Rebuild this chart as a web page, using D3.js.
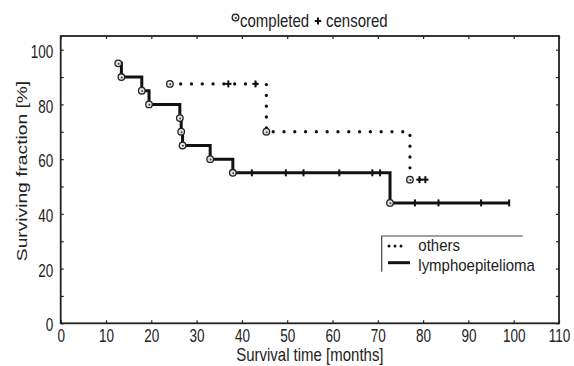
<!DOCTYPE html>
<meta charset="utf-8">
<script src="https://cdn.jsdelivr.net/npm/d3@7"></script>
<style>
body { margin: 0; background: #fff; }
text { font-family: "Liberation Sans", Arial, sans-serif; fill: #222; }
.axis line { stroke: #222; stroke-width: 1.2; }
.axis path { display: none; }
</style>
<body>
<div id="chart"></div>
<script>

// ---------------------------- DATA ----------------------------//
// lymphoepitelioma: events [months, surviving %]
var lymphEvents = [[12.7, 95], [13.4, 90], [17.9, 85], [19.5, 80], [26.3, 75], [26.6, 70],
                   [26.9, 65], [33.0, 60], [38.0, 55], [72.7, 44]];
var lymphCensored = [[42.2, 55], [49.7, 55], [53.6, 55], [61.5, 55], [68.8, 55], [70.5, 55],
                     [78.2, 44], [83.4, 44], [92.8, 44], [99.0, 44]];

// others
var otherEvents = [[24.1, 87.5], [45.4, 70], [77.1, 52.5]];
var otherCensored = [[37.0, 87.5], [43.0, 87.5], [79.2, 52.5], [80.5, 52.5]];

var xTicks = [0, 10, 20, 30, 40, 50, 60, 70, 80, 90, 100, 110];
var yTicks = [0, 10, 20, 30, 40, 50, 60, 70, 80, 90, 100];
var yLabels = [0, 20, 40, 60, 80, 100];

var W = 574, H = 366;
var pLeft = 60.7, pRight = 559, pTop = 36, pBottom = 323.3;
var sy = 1.2;   // the picture is stretched vertically, text looks condensed

var x = d3.scaleLinear().domain([0, 110]).range([pLeft, pRight]);
var y = d3.scaleLinear().domain([0, 105]).range([pBottom, pTop]);

var svg = d3.select("#chart").append("svg")
    .attr("width", W)
    .attr("height", H);

// ---------------------------- AXES ----------------------------//
svg.append("g").attr("class", "axis")
    .attr("transform", "translate(0," + pBottom + ")")
    .call(d3.axisBottom(x).tickValues(xTicks).tickSizeInner(-3).tickSizeOuter(0).tickPadding(0))
    .selectAll("text")
    .attr("y", null).attr("dy", null)
    .style("font-size", "13.5px")
    .attr("transform", "translate(0,18.3) scale(1,1.35)");

svg.append("g").attr("class", "axis")
    .attr("transform", "translate(0," + pTop + ")")
    .call(d3.axisTop(x).tickValues(xTicks).tickSizeInner(-3).tickSizeOuter(0).tickFormat(""));

svg.append("g").attr("class", "axis")
    .attr("transform", "translate(" + pLeft + ",0)")
    .call(d3.axisLeft(y).tickValues(yTicks).tickSizeInner(-3).tickSizeOuter(0).tickPadding(0)
        .tickFormat(function(d) { return yLabels.indexOf(d) >= 0 ? d : ""; }))
    .selectAll("text")
    .attr("x", null).attr("dy", null)
    .style("font-size", "13.5px")
    .attr("transform", "translate(-7.4,7.6) scale(1,1.35)");

svg.append("g").attr("class", "axis")
    .attr("transform", "translate(" + pRight + ",0)")
    .call(d3.axisRight(y).tickValues(yTicks).tickSizeInner(-3).tickSizeOuter(0).tickFormat(""));

// frame
svg.append("rect")
    .attr("x", pLeft).attr("y", pTop)
    .attr("width", pRight - pLeft).attr("height", pBottom - pTop)
    .attr("fill", "none")
    .attr("stroke", "#222")
    .attr("stroke-width", 1.8);

// axis titles
svg.append("text")
    .attr("transform", "translate(" + ((pLeft + pRight) / 2) + ",361) scale(1," + sy + ")")
    .attr("text-anchor", "middle")
    .style("font-size", "15px")
    .text("Survival time [months]");

svg.append("text")
    .attr("transform", "translate(26.5,171) rotate(-90) scale(1.24,1)")
    .attr("text-anchor", "middle")
    .style("font-size", "15.5px")
    .text("Surviving fraction [%]");

// ---------------------------- CURVES ----------------------------//
function stepPath(events, censored) {
    var pts = [[events[0][0], events[0][1]]];
    for (var i = 1; i < events.length; i++) {
        pts.push([events[i][0], events[i - 1][1]]);
        pts.push([events[i][0], events[i][1]]);
    }
    var lastT = d3.max(censored, function(d) { return d[0]; });
    if (lastT > events[events.length - 1][0]) pts.push([lastT, events[events.length - 1][1]]);
    return pts;
}

var line = d3.line()
    .x(function(d) { return x(d[0]); })
    .y(function(d) { return y(d[1]); });

svg.append("path")
    .attr("d", line(stepPath(otherEvents, otherCensored)))
    .attr("fill", "none")
    .attr("stroke", "#111")
    .attr("stroke-width", 3.3)
    .attr("stroke-linecap", "round")
    .attr("stroke-dasharray", "0 10.8");

svg.append("path")
    .attr("d", line(stepPath(lymphEvents, lymphCensored)))
    .attr("fill", "none")
    .attr("stroke", "#111")
    .attr("stroke-width", 3);

// censored marks
function drawPlus(g, cx, cy, horiz) {
    g.append("line")
        .attr("x1", cx).attr("x2", cx).attr("y1", cy - 3.5).attr("y2", cy + 3.5)
        .attr("stroke", "#111").attr("stroke-width", 2);
    if (horiz) {
        g.append("line")
            .attr("x1", cx - 3.2).attr("x2", cx + 3.2).attr("y1", cy).attr("y2", cy)
            .attr("stroke", "#111").attr("stroke-width", 2);
    }
}

var marks = svg.append("g");
lymphCensored.forEach(function(d) { drawPlus(marks, x(d[0]), y(d[1]), false); });
otherCensored.forEach(function(d) { drawPlus(marks, x(d[0]), y(d[1]), true); });

// completed marks
function drawCircle(g, cx, cy) {
    g.append("circle")
        .attr("cx", cx).attr("cy", cy).attr("r", 3.3)
        .attr("fill", "#e4e4e4").attr("stroke", "#222").attr("stroke-width", 1.3);
    g.append("circle")
        .attr("cx", cx + 0.4).attr("cy", cy + 0.4).attr("r", 1)
        .attr("fill", "#444");
}

lymphEvents.concat(otherEvents).forEach(function(d) { drawCircle(marks, x(d[0]), y(d[1])); });

// ---------------------------- TITLE ----------------------------//
drawCircle(svg, 235.5, 17.5);
svg.append("text")
    .attr("transform", "translate(240,27.3) scale(1," + sy + ")")
    .style("font-size", "15px")
    .text("completed");
drawPlus(svg, 318, 21, true);
svg.append("text")
    .attr("transform", "translate(326,27.3) scale(1," + sy + ")")
    .style("font-size", "15px")
    .text("censored");

// ---------------------------- LEGEND ----------------------------//
var legend = svg.append("g");
legend.append("path")
    .attr("d", "M381.7,271.7V236H522.7")
    .attr("fill", "none")
    .attr("stroke", "#444")
    .attr("stroke-width", 1.2);

legend.append("line")
    .attr("x1", 389).attr("x2", 407).attr("y1", 246).attr("y2", 246)
    .attr("stroke", "#111").attr("stroke-width", 3).attr("stroke-linecap", "round")
    .attr("stroke-dasharray", "0 6");
legend.append("line")
    .attr("x1", 388).attr("x2", 410).attr("y1", 262.7).attr("y2", 262.7)
    .attr("stroke", "#111").attr("stroke-width", 3);

legend.append("text")
    .attr("transform", "translate(418.3,250.5) scale(1,1.12)")
    .style("font-size", "15px")
    .text("others");
legend.append("text")
    .attr("transform", "translate(418.3,270.5) scale(1,1.12)")
    .style("font-size", "15px")
    .text("lymphoepitelioma");

</script>
</body>
